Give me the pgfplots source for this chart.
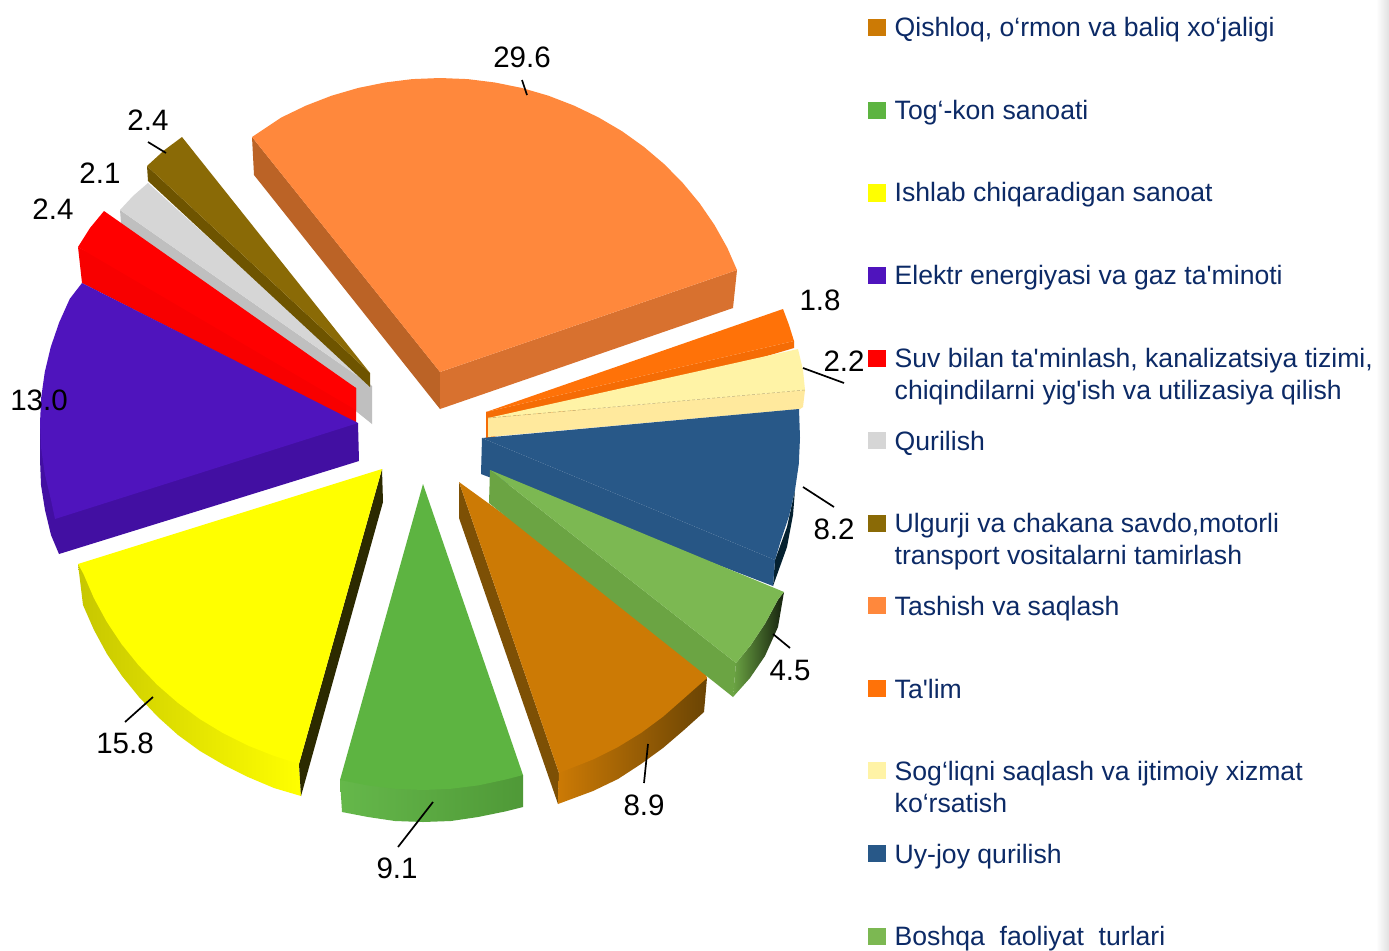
\documentclass[border=0pt]{standalone}
\usepackage{pgfplots}
\pgfplotsset{compat=1.18}
\usepackage{fontspec}
\setmainfont{Liberation Sans}
\newfontfamily\lf{Liberation Sans}
\definecolor{legtxt}{HTML}{0C2A66}
\definecolor{cPeach}{HTML}{FF883C}\definecolor{cPeachL}{HTML}{BB6326}\definecolor{cPeachR}{HTML}{D8712F}
\definecolor{cBrown}{HTML}{8A6A06}\definecolor{cBrownS}{HTML}{6E5400}
\definecolor{cGrey}{HTML}{D6D6D6}\definecolor{cGreyS}{HTML}{BFBFBF}
\definecolor{cRed}{HTML}{FF0000}\definecolor{cRedS}{HTML}{F80000}
\definecolor{cPurple}{HTML}{4F14BD}\definecolor{cPurpleS}{HTML}{420FA2}
\definecolor{cYellow}{HTML}{FFFF00}\definecolor{cYellowD}{HTML}{2C2A00}
\definecolor{cGreen}{HTML}{5DB441}
\definecolor{cOch}{HTML}{CC7A05}\definecolor{cOchS}{HTML}{7D5005}
\definecolor{cLime}{HTML}{7CB852}\definecolor{cLimeS}{HTML}{6BA443}
\definecolor{cBlue}{HTML}{285888}\definecolor{cBlueD}{HTML}{04202F}
\definecolor{cCream}{HTML}{FFF3A6}\definecolor{cCreamS}{HTML}{FFE99D}
\definecolor{cOrange}{HTML}{FF7208}\definecolor{cOrangeS}{HTML}{F56C05}
\newcommand{\lab}[3]{\node[font=\lf\fontsize{29.5}{32}\selectfont,text=black,inner sep=0pt] at (axis cs:#1,#2) {#3};}
\newcommand{\lead}[4]{\addplot[black,line width=1.7pt,mark=none] coordinates {(#1,#2) (#3,#4)};}
\newcommand{\ltxt}[2]{\node[anchor=base west,font=\lf\fontsize{26.6}{32}\selectfont,text=legtxt,inner sep=0pt] at (axis cs:894.5,#1) {#2};}
\newcommand{\sq}[2]{\addplot[only marks,draw=#2,fill=#2,mark=square*,mark size=8.2pt,mark options={solid,draw=#2,fill=#2}] coordinates {(876.5,#1)};}
\begin{document}
\begin{tikzpicture}
\begin{axis}[width=1389pt,height=950pt,scale only axis,xmin=0,xmax=1389,ymin=0,ymax=950,y dir=reverse,
  axis lines=none,clip=false,xtick=\empty,ytick=\empty]
% page
\addplot[draw=none,fill=white,mark=none] coordinates {(0,0) (1389,0) (1389,950) (0,950)};
\addplot[draw=none,left color=white,right color=black!12,mark=none] coordinates {(1376,0) (1389,0) (1389,950) (1376,950)};
% Tashish va saqlash 29.6
\addplot[draw=none,fill=cPeachL,mark=none] coordinates {(252,137) (254,175) (440,409) (440,372)};
\addplot[draw=none,fill=cPeachR,mark=none] coordinates {(440,372) (440,409) (733,308) (737,270)};
\addplot[draw=none,fill=cPeach,mark=none] coordinates {(252,137) (281.5,117.4) (306,105.6) (331.6,95.7) (358,88) (385,82.5) (412.4,79.1) (440,78) (467.6,79.1) (495,82.5) (522,88) (548.4,95.7) (574,105.6) (598.5,117.4) (622,131.2) (643.8,146.8) (664.2,164.1) (682.8,183) (699.7,203.4) (714.5,225) (727.3,247.8) (737,270) (440,372)};
% Qurilish 2.1
\addplot[draw=none,fill=cGreyS,mark=none] coordinates {(120,210) (121,223) (372,424) (372,386)};
\addplot[draw=none,fill=cGrey,mark=none] coordinates {(148,183) (133,196) (120,210) (372,386)};
% Ulgurji 2.4
\addplot[draw=none,fill=cBrownS,mark=none] coordinates {(147,166) (148,181) (370,387) (370,373)};
\addplot[draw=none,fill=cBrown,mark=none] coordinates {(182,137) (164.5,150) (147,166) (370,373)};
% Suv 2.4
\addplot[draw=none,fill=cRedS,mark=none] coordinates {(78,247) (82,283) (356,423) (356,388)};
\addplot[draw=none,fill=cRed,mark=none] coordinates {(104,211) (90,228) (78,247) (356,410) (356,388)};
% Elektr 13.0
\addplot[draw=none,fill=cPurpleS,mark=none] coordinates {(40,423) (40,459) (41,485) (45,510) (51,535) (59,554) (359,461) (358,423)};
\addplot[draw=none,fill=cPurple,mark=none] coordinates {(82,283) (69.8,298.8) (59.2,322.4) (50.8,346.9) (44.8,372) (41.2,397.4) (40,423) (41.2,448.6) (44.8,474) (50.8,499.1) (55,519) (358,423)};
% Ishlab 15.8
\addplot[draw=none,left color=yellow!78!black,middle color=yellow!88!black,right color=cYellow,mark=none] coordinates {(78,564) (83,605) (94,630) (107,654) (122,676) (139,697) (158,717) (178,735) (200,751) (224,765) (248,777) (274,788) (301,796) (299,764)};
\addplot[draw=none,fill=cYellowD,mark=none] coordinates {(382,469) (383,502) (301,796) (299,764)};
\addplot[draw=none,fill=cYellow,mark=none] coordinates {(382,469) (78,564) (83.2,573.3) (93.8,597.9) (106.6,621.5) (121.5,644) (138.4,665) (157.1,684.7) (177.6,702.6) (199.6,718.9) (223,733.1) (247.6,745.4) (273.2,755.6) (299,764)};
% Tog-kon 9.1
\addplot[draw=none,left color=cGreen!95!white,right color=cGreen!85!black,mark=none] coordinates {(340,780) (342,812) (368,817) (395,821) (423,822) (451,821) (478,817) (505,811.5) (523,807) (523,775)};
\addplot[draw=none,fill=cGreen,mark=none] coordinates {(423,484) (340,780) (367.8,785.4) (395.3,788.8) (423,790) (450.7,788.8) (478.2,785.4) (505.3,779.6) (523,775)};
% Qishloq 8.9
\addplot[draw=none,fill=cOchS,mark=none] coordinates {(459,482) (459,518) (558,804) (559,773)};
\addplot[draw=none,left color=cOch,middle color=cOchS!90!cOch,right color=cOchS!85!black,mark=none] coordinates {(559,773) (558,804) (593,791) (618,779) (641,764) (663,748) (684,730) (704,712) (707,678)};
\addplot[draw=none,fill=cOch,mark=none] coordinates {(459,482) (559,773) (593.4,759.3) (618,747) (641.4,732.7) (663.4,716.4) (683.9,698.4) (707,678) (705,672) (600,584)};
% Talim 1.8
\addplot[draw=none,fill=cOrangeS,mark=none] coordinates {(486,412) (486,438) (490,438) (794,348) (794,341)};
\addplot[draw=none,fill=cOrange,mark=none] coordinates {(783,309) (789,325) (794,341) (486,412)};
% Sogliqni 2.2
\addplot[draw=none,fill=cCreamS,mark=none] coordinates {(488,418) (488,437) (800,409) (803,407) (805,390)};
\addplot[draw=none,fill=cCream,mark=none] coordinates {(798,349) (803,370) (805,390) (488,418)};
\addplot[cCreamS!75!black,line width=0.5pt,densely dashed,mark=none] coordinates {(488,418) (805,390)};
% Uy-joy 8.2
\addplot[draw=none,fill=cBlueD,mark=none] coordinates {(795,490) (793,515) (787,547) (773,586) (775,560) (787,527)};
\addplot[draw=none,fill=cBlue!98!black,mark=none] coordinates {(482,438) (481,474) (773,586) (775,560)};
\addplot[draw=none,fill=cBlue,mark=none] coordinates {(482,438) (799,409) (800,438) (798.8,464) (795,490) (789.2,515.6) (780.8,540.6) (775,560)};
% Boshqa 4.5
\addplot[draw=none,fill=cLimeS,mark=none] coordinates {(490,470) (489,503) (733,697) (736,663)};
\addplot[draw=none,left color=cLimeS,middle color=cLimeS!45!black,right color=cLimeS!20!black,mark=none] coordinates {(736,663) (733,697) (750,678) (765,656) (778,627) (784,592) (778.2,599.3) (765.4,623) (750.5,645.5)};
\addplot[draw=none,fill=cLime,mark=none] coordinates {(490,470) (784,592) (778.2,599.3) (765.4,623) (750.5,645.5) (736,663)};
% leaders
\lead{148}{142}{166}{153}
\lead{522}{80}{527}{95}
\lead{803}{368}{844}{383}
\lead{803}{487}{834}{507}
\lead{773}{634}{790}{648}
\lead{648}{744}{644}{783}
\lead{433}{802}{398}{847}
\lead{153}{697}{125}{722}
% value labels
\lab{522}{57}{29.6}
\lab{148}{120}{2.4}
\lab{100}{173}{2.1}
\lab{53}{209}{2.4}
\lab{39}{400}{13.0}
\lab{820}{300}{1.8}
\lab{844}{361}{2.2}
\lab{834}{529}{8.2}
\lab{790}{670}{4.5}
\lab{644}{805}{8.9}
\lab{397}{868}{9.1}
\lab{125}{743}{15.8}
% legend
\sq{27}{cOch}\ltxt{36}{Qishloq, o‘rmon va baliq xo‘jaligi}
\sq{110}{cGreen}\ltxt{119}{Tog‘-kon sanoati}
\sq{192.5}{cYellow}\ltxt{201.5}{Ishlab chiqaradigan sanoat}
\sq{275}{cPurple}\ltxt{284}{Elektr energiyasi va gaz ta'minoti}
\sq{358}{cRed}\ltxt{367}{Suv bilan ta'minlash, kanalizatsiya tizimi,}
\ltxt{399}{chiqindilarni yig'ish va utilizasiya qilish}
\sq{440}{cGrey}\ltxt{450}{Qurilish}
\sq{523}{cBrown}\ltxt{532}{Ulgurji va chakana savdo,motorli}
\ltxt{564}{transport vositalarni tamirlash}
\sq{605}{cPeach}\ltxt{615}{Tashish va saqlash}
\sq{688}{cOrange}\ltxt{698}{Ta'lim}
\sq{770}{cCream}\ltxt{780}{Sog‘liqni saqlash va ijtimoiy xizmat}
\ltxt{812}{ko‘rsatish}
\sq{853}{cBlue}\ltxt{863}{Uy-joy qurilish}
\sq{936}{cLime}\ltxt{945}{Boshqa\ \ faoliyat\ \ turlari}
\end{axis}
\end{tikzpicture}
\end{document}
